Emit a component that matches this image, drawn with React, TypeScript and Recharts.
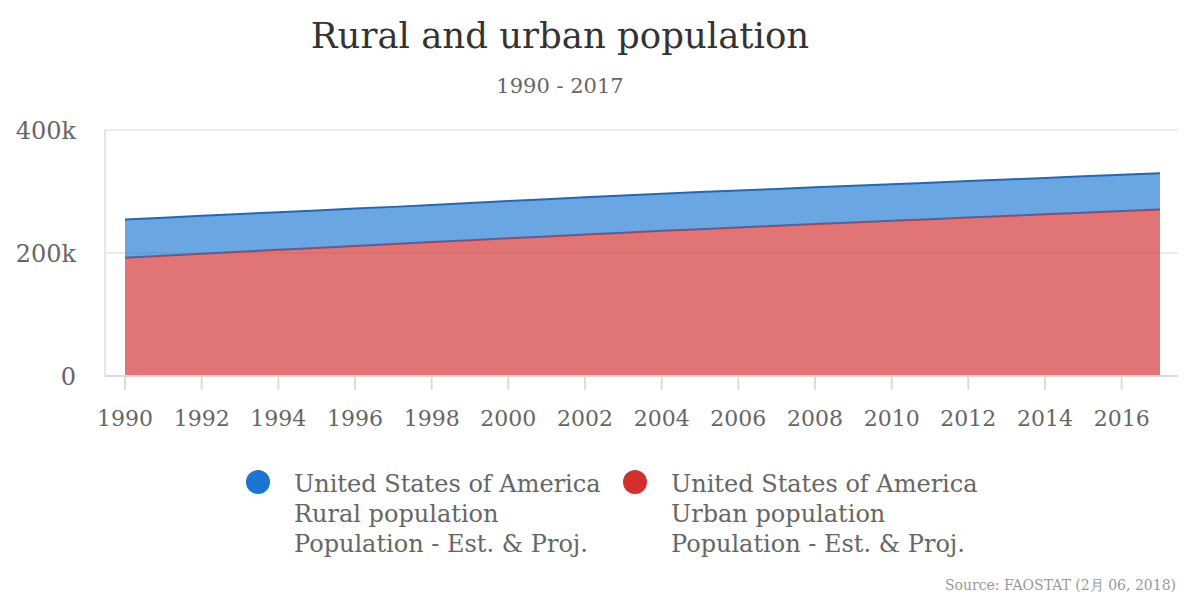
import React from 'react';
import { AreaChart, Area, XAxis, YAxis, CartesianGrid } from 'recharts';

const years = [1990, 1991, 1992, 1993, 1994, 1995, 1996, 1997, 1998, 1999, 2000, 2001, 2002, 2003, 2004, 2005, 2006, 2007, 2008, 2009, 2010, 2011, 2012, 2013, 2014, 2015, 2016, 2017];
// thousands
const urbanPop = [192.4, 195.6, 198.8, 202.0, 205.1, 208.3, 211.5, 214.6, 217.7, 220.8, 223.9, 226.9, 230.0, 233.0, 236.1, 238.8, 241.6, 244.3, 247.0, 249.7, 252.4, 255.0, 257.6, 260.2, 262.9, 265.5, 268.1, 270.7];
const ruralPop = [62.1, 61.9, 61.7, 61.5, 61.2, 61.0, 60.7, 60.4, 60.4, 60.4, 60.5, 60.5, 60.5, 60.4, 60.4, 60.3, 60.1, 59.9, 59.8, 59.6, 59.5, 59.3, 59.3, 59.2, 59.2, 59.1, 59.1, 59.1];
const xTicks = [1990, 1992, 1994, 1996, 1998, 2000, 2002, 2004, 2006, 2008, 2010, 2012, 2014, 2016];
const yTicks = [0, 200, 400];

const legendItems = [
  { color: '#1976d2', lines: ['United States of America', 'Rural population', 'Population - Est. & Proj.'] },
  { color: '#d32f2f', lines: ['United States of America', 'Urban population', 'Population - Est. & Proj.'] },
];

const data = years.map((y, i) => ({ year: y, urban: urbanPop[i], rural: ruralPop[i] }));

const FONT = '"DejaVu Serif", serif';

export default function App() {
  return (
    <div style={{ position: 'absolute', left: 0, top: 0, width: 1200, height: 600, fontFamily: FONT, background: '#fff' }}>
      <AreaChart width={1200} height={600} data={data} margin={{ top: 130, right: 22, bottom: 164, left: 0 }}>
        <CartesianGrid vertical={false} stroke="#e6e6e6" strokeWidth={1.5} />
        <XAxis
          dataKey="year"
          type="number"
          domain={[1990, 2017]}
          ticks={xTicks}
          padding={{ left: 20, right: 18 }}
          height={60}
          axisLine={{ stroke: '#dcdcdc', strokeWidth: 2 }}
          tickLine={{ stroke: '#dcdcdc', strokeWidth: 2 }}
          tickSize={14}
          tickMargin={20}
          tick={{ fill: '#666', fontSize: 22 }}
          interval={0}
        />
        <YAxis
          domain={[0, 400]}
          ticks={yTicks}
          width={105}
          axisLine={{ stroke: '#e6e6e6', strokeWidth: 2 }}
          tickLine={false}
          tickSize={0}
          tickMargin={29}
          tick={{ fill: '#666', fontSize: 24 }}
          tickFormatter={(v: number) => (v === 0 ? '0' : `${v}k`)}
        />
        <Area
          type="linear"
          dataKey="urban"
          stackId="1"
          stroke="#c43a3a"
          strokeWidth={2}
          fill="#d32f2f"
          fillOpacity={0.67}
          isAnimationActive={false}
        />
        <Area
          type="linear"
          dataKey="rural"
          stackId="1"
          stroke="#1a6bc0"
          strokeWidth={2}
          fill="#1976d2"
          fillOpacity={0.65}
          isAnimationActive={false}
        />
      </AreaChart>

      <div style={{ position: 'absolute', left: 0, width: 1120, top: 15, textAlign: 'center', fontSize: 35.5, color: '#333' }}>
        Rural and urban population
      </div>
      <div style={{ position: 'absolute', left: 0, width: 1120, top: 74, textAlign: 'center', fontSize: 21, color: '#666' }}>
        1990 - 2017
      </div>

      {legendItems.map((item, i) => (
        <div key={i} style={{ position: 'absolute', left: 246 + i * 377, top: 469 }}>
          <div style={{ position: 'absolute', left: 0, top: 1, width: 24, height: 24, borderRadius: 12, background: item.color }} />
          <div style={{ position: 'absolute', left: 48, top: 0, fontSize: 24, lineHeight: '30px', color: '#666', whiteSpace: 'nowrap' }}>
            {item.lines.map((l, j) => (
              <div key={j}>{l}</div>
            ))}
          </div>
        </div>
      ))}

      <div style={{ position: 'absolute', right: 24, top: 577, fontSize: 14, color: '#999' }}>
        Source: FAOSTAT (2月 06, 2018)
      </div>
    </div>
  );
}
